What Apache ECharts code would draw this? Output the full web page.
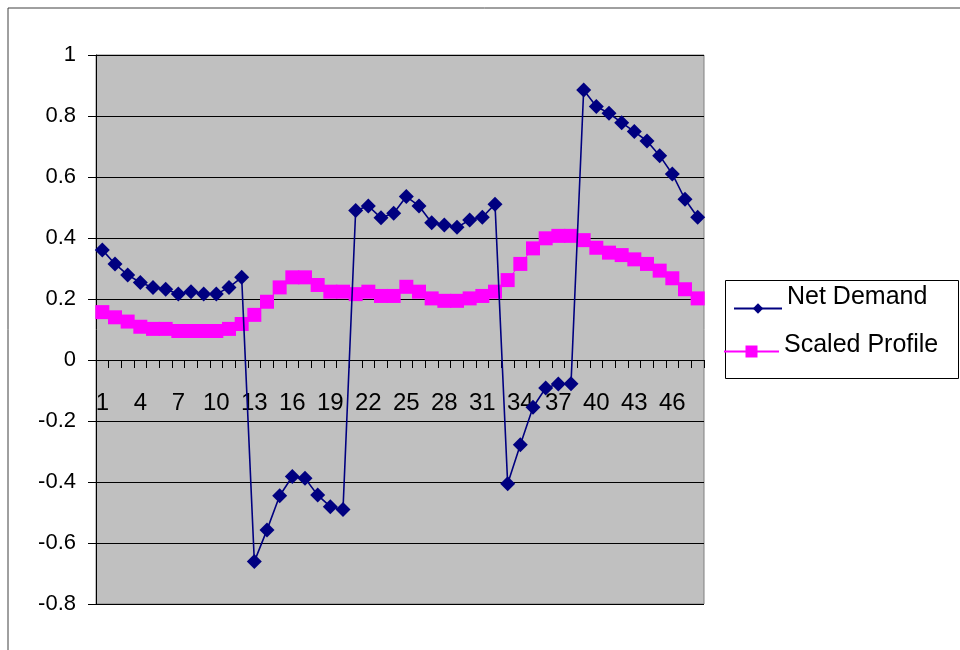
<!DOCTYPE html>
<html>
<head>
<meta charset="utf-8">
<script src="https://cdn.jsdelivr.net/npm/echarts@6/dist/echarts.min.js"></script>
<style>
html,body{margin:0;padding:0;background:#fff;}
#chart{width:960px;height:650px;}
</style>
</head>
<body>
<div id="chart"></div>
<script>
var categories = [];
for (var i = 1; i <= 48; i++) categories.push(String(i));

var netDemand = [
  0.361, 0.315, 0.279, 0.254, 0.238, 0.232, 0.216, 0.224, 0.216, 0.216, 0.238, 0.271,
  -0.661, -0.557, -0.445, -0.382, -0.388, -0.443, -0.481, -0.490,
  0.490, 0.505, 0.466, 0.481, 0.536, 0.505, 0.450, 0.443, 0.435, 0.459, 0.468, 0.511,
  -0.406, -0.278, -0.155, -0.092, -0.079, -0.078,
  0.885, 0.831, 0.809, 0.778, 0.749, 0.718, 0.670, 0.610, 0.527, 0.468
];

var scaledProfile = [
  0.157, 0.140, 0.126, 0.109, 0.102, 0.102, 0.095, 0.095, 0.095, 0.095, 0.102, 0.118,
  0.148, 0.191, 0.238, 0.271, 0.271, 0.246, 0.224, 0.224, 0.216, 0.224, 0.210, 0.210,
  0.240, 0.224, 0.202, 0.194, 0.194, 0.202, 0.210, 0.224, 0.262, 0.315, 0.366, 0.399,
  0.407, 0.407, 0.393, 0.368, 0.352, 0.344, 0.330, 0.315, 0.293, 0.268, 0.232, 0.202
];

var seriesNames = ['Net Demand', 'Scaled Profile'];
var FONT = 'Arial, "Liberation Sans", sans-serif';

var yMin = -0.8, yMax = 1;
var gridTop = 55, gridBottom = 46, chartH = 650;
var gridH = chartH - gridTop - gridBottom;
var zeroOffset = -gridH * (0 - yMin) / (yMax - yMin);

var chart = echarts.init(document.getElementById('chart'));
chart.setOption({
  animation: false,
  backgroundColor: '#ffffff',
  grid: {
    left: 96, right: 256, top: gridTop, bottom: gridBottom,
    show: true, backgroundColor: '#C0C0C0', borderColor: '#808080', borderWidth: 1
  },
  xAxis: {
    type: 'category',
    data: categories,
    boundaryGap: true,
    offset: zeroOffset,
    axisLine: { onZero: false, lineStyle: { color: '#000', width: 1 } },
    axisTick: { show: true, interval: 0, length: 8, lineStyle: { color: '#000' } },
    axisLabel: { interval: 2, margin: 31, color: '#000', fontSize: 24, fontFamily: FONT },
    splitLine: { show: false }
  },
  yAxis: {
    type: 'value',
    min: yMin, max: yMax, interval: 0.2,
    axisLine: { show: true, lineStyle: { color: '#000', width: 1 } },
    axisTick: { show: true, length: 8, lineStyle: { color: '#000' } },
    axisLabel: {
      margin: 20, color: '#000', fontSize: 22, fontFamily: FONT,
      formatter: function (v) { return String(+v.toFixed(1)); }
    },
    splitLine: { show: true, lineStyle: { color: '#000', width: 1 } }
  },
  legend: [
    {
      data: [seriesNames[0]],
      left: 733, top: 285, padding: 0,
      itemWidth: 48, itemHeight: 13,
      formatter: '{t|{name}}',
      textStyle: { color: '#000', fontSize: 25, fontFamily: FONT,
        rich: { t: { fontSize: 25, fontFamily: FONT, color: '#000', padding: [0, 0, 22, 0] } } }
    },
    {
      data: [seriesNames[1]],
      left: 723, top: 333, padding: 0,
      itemWidth: 55, itemHeight: 15,
      formatter: '{t|{name}}',
      textStyle: { color: '#000', fontSize: 25, fontFamily: FONT,
        rich: { t: { fontSize: 25, fontFamily: FONT, color: '#000', padding: [0, 0, 12, 0] } } }
    }
  ],
  graphic: [
    { type: 'rect', silent: true, z: -1, shape: { x: 8, y: 8, width: 1000, height: 700 },
      style: { fill: 'none', stroke: '#404040', lineWidth: 1 } },
    { type: 'rect', silent: true, z: 0, shape: { x: 725.5, y: 280.5, width: 233, height: 98 },
      style: { fill: '#fff', stroke: '#000', lineWidth: 1 } }
  ],
  series: [
    {
      name: seriesNames[0],
      type: 'line',
      data: netDemand,
      z: 4,
      showAllSymbol: true,
      symbol: 'diamond',
      symbolSize: 15,
      color: '#000080',
      lineStyle: { color: '#000080', width: 1.6 },
      itemStyle: { color: '#000080' }
    },
    {
      name: seriesNames[1],
      type: 'line',
      data: scaledProfile,
      z: 3,
      showAllSymbol: true,
      symbol: 'rect',
      symbolSize: 14,
      color: '#FF00FF',
      lineStyle: { color: '#FF00FF', width: 1 },
      itemStyle: { color: '#FF00FF' }
    }
  ]
});
</script>
</body>
</html>
